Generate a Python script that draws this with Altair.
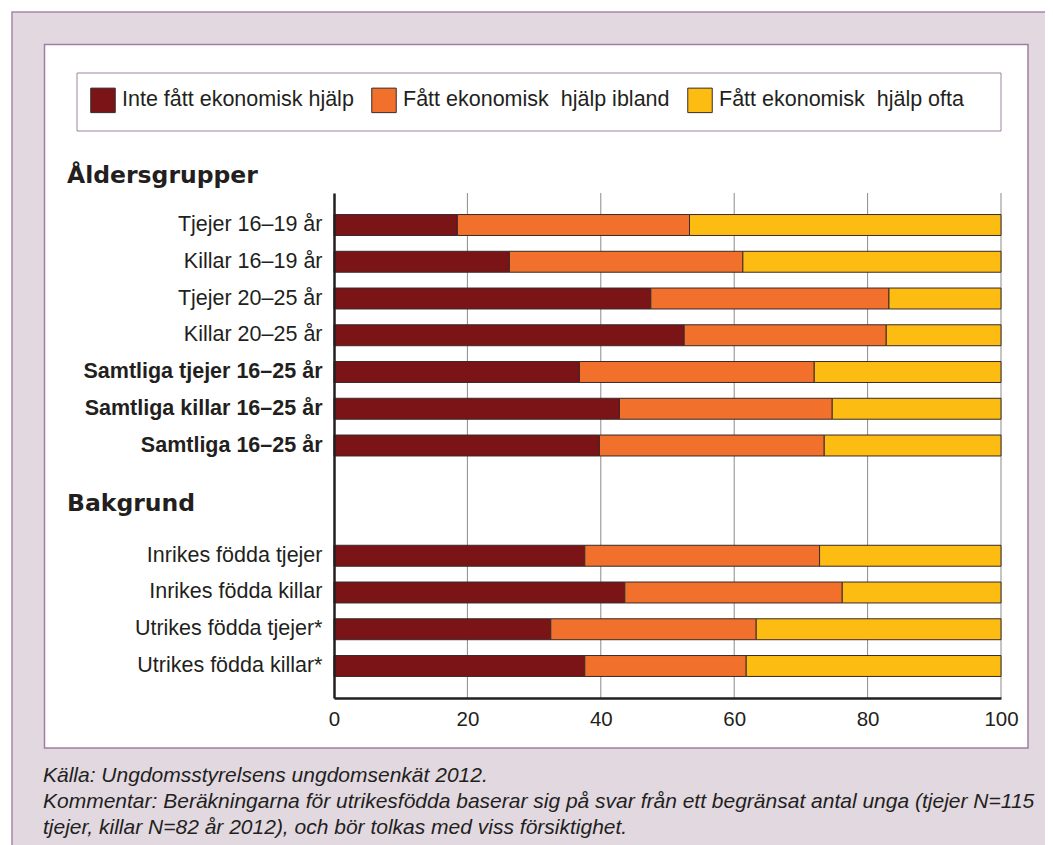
import altair as alt
import pandas as pd

# ---------------- data ----------------
labels = [
    "Tjejer 16–19 år",
    "Killar 16–19 år",
    "Tjejer 20–25 år",
    "Killar 20–25 år",
    "Samtliga tjejer 16–25 år",
    "Samtliga killar 16–25 år",
    "Samtliga 16–25 år",
    "Inrikes födda tjejer",
    "Inrikes födda killar",
    "Utrikes födda tjejer*",
    "Utrikes födda killar*",
]
inte = [18.5, 26.3, 47.5, 52.5, 36.8, 42.8, 39.8, 37.6, 43.6, 32.5, 37.6]
ibland = [34.8, 35.0, 35.7, 30.3, 35.2, 31.9, 33.7, 35.2, 32.6, 30.8, 24.2]
ofta = [46.7, 38.7, 16.8, 17.2, 28.0, 25.3, 26.5, 27.2, 23.8, 36.7, 38.2]

series = ["Inte fått ekonomisk hjälp", "Fått ekonomisk\u00a0 hjälp ibland", "Fått ekonomisk\u00a0 hjälp ofta"]
colors = ["#7a1416", "#f1702b", "#fcbc12"]
x_ticks = [0, 20, 40, 60, 80, 100]
grid_values = [20, 40, 60, 80, 100]
section_titles = ["Åldersgrupper", "Bakgrund"]
note_lines = [
    "Källa: Ungdomsstyrelsens ungdomsenkät 2012.",
    "Kommentar: Beräkningarna för utrikesfödda baserar sig på svar från ett begränsat antal unga (tjejer N=115",
    "tjejer, killar N=82 år 2012), och bör tolkas med viss försiktighet.",
]

rows = []
for i, lab in enumerate(labels):
    for j, vals in enumerate([inte, ibland, ofta]):
        rows.append({"label": lab, "serie": series[j], "value": vals[i], "order": j})
df = pd.DataFrame(rows)

y_domain = labels[:7] + [" ", "  "] + labels[7:]

# ---------------- styling ----------------
W, H = 667, 505
FONT = "Liberation Sans"
TXT = "#231f20"
one = pd.DataFrame({"k": [0]})

xscale = alt.Scale(domain=[0, 100], nice=False, zero=True)
x_axis = alt.Axis(
    values=x_ticks, grid=False, ticks=False, tickSize=0, domainColor=TXT, domainWidth=2.5,
    labelFont=FONT, labelFontSize=20.5, labelColor=TXT, labelPadding=11, labelFlush=False,
    labelOverlap=False, title=None, zindex=1, format="d",
)

outer = alt.Chart(one).mark_rect(fill="#e2d8e0", stroke="#a886a8", strokeWidth=1.5).encode(
    x=alt.value(-322), x2=alt.value(730), y=alt.value(-181), y2=alt.value(720)
)
panel = alt.Chart(one).mark_rect(fill="white", stroke="#a07ea2", strokeWidth=1.5).encode(
    x=alt.value(-289.5), x2=alt.value(694), y=alt.value(-148.5), y2=alt.value(555)
)
legbox = alt.Chart(one).mark_rect(fill="white", stroke="#9c849c", strokeWidth=1).encode(
    x=alt.value(-257), x2=alt.value(667), y=alt.value(-120), y2=alt.value(-62)
)
grid = alt.Chart(pd.DataFrame({"value": grid_values})).mark_rule(color="#8a8a8a", strokeWidth=1).encode(
    x=alt.X("value:Q", scale=xscale, axis=x_axis, title=None),
    y=alt.value(0),
    y2=alt.value(H),
)

bars = alt.Chart(df).mark_bar(stroke="#3a2a2a", strokeWidth=1).encode(
    x=alt.X("value:Q", stack="zero", scale=xscale, axis=x_axis, title=None),
    y=alt.Y(
        "label:N",
        sort=y_domain,
        scale=alt.Scale(domain=y_domain, paddingInner=0.43, paddingOuter=0.586),
        axis=alt.Axis(
            title=None, ticks=False, tickSize=0, grid=False, domainColor=TXT, domainWidth=2.5,
            labelFont=FONT, labelFontSize=21.5, labelColor=TXT, labelPadding=12, labelLimit=400,
            labelFontWeight={
                "condition": {"test": "indexof(datum.value, 'Samtliga') === 0", "value": "bold"},
                "value": "normal",
            },
            zindex=1,
        ),
    ),
    color=alt.Color(
        "serie:N",
        scale=alt.Scale(domain=series, range=colors),
        legend=alt.Legend(
            title=None, orient="none", legendX=-244, legendY=-106, direction="horizontal",
            columns=3, symbolType="square", symbolSize=600, symbolStrokeColor="#3a2a2a",
            symbolStrokeWidth=1, symbolOpacity=1, labelFont=FONT, labelFontSize=21.5, labelColor=TXT,
            labelOffset=6, columnPadding=15, labelLimit=400, zindex=1, padding=0,
        ),
    ),
    order=alt.Order("order:Q"),
)

h1 = alt.Chart(one).mark_text(
    text=section_titles[0], font="DejaVu Sans", fontSize=23.5, fontWeight="bold",
    align="left", baseline="alphabetic", color=TXT,
).encode(x=alt.value(-267), y=alt.value(-10))
h2 = alt.Chart(one).mark_text(
    text=section_titles[1], font="DejaVu Sans", fontSize=23.5, fontWeight="bold",
    align="left", baseline="alphabetic", color=TXT,
).encode(x=alt.value(-267), y=alt.value(318))

notes = alt.Chart(one).mark_text(
    text=note_lines, font=FONT, fontStyle="italic", fontSize=21, lineHeight=26,
    align="left", baseline="alphabetic", color=TXT,
).encode(x=alt.value(-291), y=alt.value(589))

chart = alt.layer(outer, panel, legbox, grid, bars, h1, h2, notes).properties(
    width=W,
    height=H,
    autosize=alt.AutoSizeParams(type="none"),
    padding={"left": 326, "top": 185, "right": 44, "bottom": 147},
    background="white",
).configure_view(stroke=None)

chart.save("out.html", embed_options={"renderer": "svg", "actions": False})
